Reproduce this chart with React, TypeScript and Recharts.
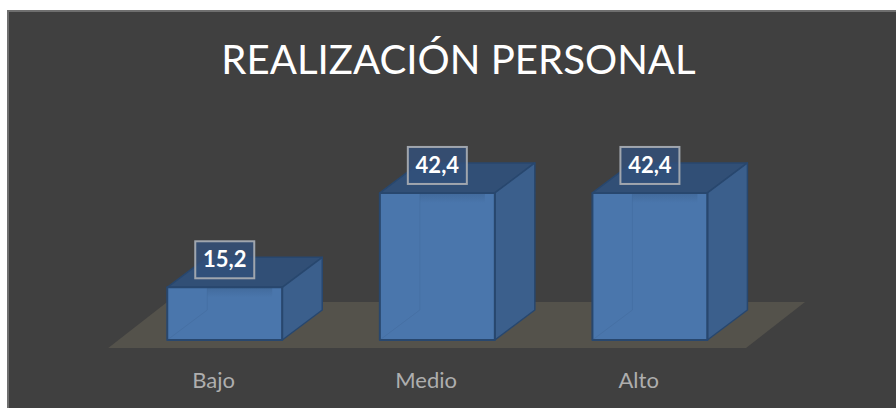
import { BarChart, Bar, XAxis, YAxis, LabelList, ReferenceArea } from 'recharts';

const categories = ['Bajo', 'Medio', 'Alto'];
const values = [15.2, 42.4, 42.4];
const yDomain = [0, 50];

const chartData = categories.map((name, i) => ({ name, value: values[i] }));

const DEPTH_X = 40;
const DEPTH_Y = 30;

const Floor = (props: any) => {
  const { x, y, width, height } = props;
  const bottom = y + height;
  const pts = [
    [x - 10, bottom + 8],
    [x + width - 10, bottom + 8],
    [x + width + 49, bottom - 38],
    [x + 49, bottom - 38],
  ];
  return <polygon points={pts.map((p) => p.join(',')).join(' ')} fill="#54524b" />;
};

const Box3D = (props: any) => {
  const { x, y, width, height } = props;
  const r = x + width;
  const b = y + height;
  const dx = DEPTH_X;
  const dy = DEPTH_Y;
  const edge = '#28476e';
  return (
    <g strokeLinejoin="round">
      <rect x={x} y={y} width={width} height={height} fill="#4a76ac" />
      {/* back edges seen through the front */}
      <line x1={x} y1={b} x2={x + dx} y2={b - dy} stroke="#4670a4" strokeWidth={1} />
      <line x1={x + dx} y1={y} x2={x + dx} y2={b - dy} stroke="#4670a4" strokeWidth={1} />
      <polygon
        points={`${x},${y} ${r},${y} ${r + dx},${y - dy} ${x + dx},${y - dy}`}
        fill="#314f76"
        stroke={edge}
        strokeWidth={1.5}
      />
      <polygon
        points={`${r},${y} ${r + dx},${y - dy} ${r + dx},${b - dy} ${r},${b}`}
        fill="#3b5f8c"
        stroke={edge}
        strokeWidth={1.5}
      />
      <rect x={x + 40} y={y} width={width - 50} height={10} fill="url(#topGlow)" />
      <rect x={x} y={y} width={width} height={height} fill="none" stroke={edge} strokeWidth={2} />
    </g>
  );
};

const ValueBadge = (props: any) => {
  const { x, y, width, value } = props;
  const cx = x + width / 2;
  const cy = y - 27.5;
  return (
    <g>
      <rect
        x={cx - 29.5}
        y={cy - 18.5}
        width={59}
        height={37}
        fill="#32507c"
        fillOpacity={0.8}
        stroke="#a0a6ae"
        strokeWidth={2}
      />
      <text
        x={cx}
        y={cy + 7.5}
        textAnchor="middle"
        fill="#ffffff"
        fontFamily="Lato, sans-serif"
        fontWeight={700}
        fontSize={22}
      >
        {String(value).replace('.', ',')}
      </text>
    </g>
  );
};

const App = () => {
  return (
    <div style={{ position: 'absolute', left: 0, top: 0, width: 896, height: 408, background: '#ffffff', overflow: 'hidden' }}>
      <div
        style={{
          position: 'absolute',
          left: 7,
          top: 10,
          width: 889,
          height: 398,
          boxSizing: 'border-box',
          background: '#404040',
          borderLeft: '2px solid #6f6f6f',
          borderTop: '2px solid #6f6f6f',
        }}
      />
      <div
        style={{
          position: 'absolute',
          left: 7,
          top: 34,
          width: 903,
          textAlign: 'center',
          color: '#ffffff',
          fontFamily: 'Lato, sans-serif',
          fontSize: 40.2,
          lineHeight: '50px',
        }}
      >
        REALIZACIÓN PERSONAL
      </div>
      <div style={{ position: 'absolute', left: 7, top: 10 }}>
        <BarChart
          width={889}
          height={398}
          data={chartData}
          margin={{ top: 156.6, right: 140, bottom: 28, left: 111.25 }}
          barSize={115}
        >
          <defs>
            <linearGradient id="topGlow" x1="0" y1="0" x2="0" y2="1">
              <stop offset="0%" stopColor="#2f4f76" stopOpacity={0.3} />
              <stop offset="100%" stopColor="#2f4f76" stopOpacity={0} />
            </linearGradient>
          </defs>
          <XAxis
            dataKey="name"
            axisLine={false}
            tickLine={false}
            height={40}
            dx={-11}
            tickMargin={26}
            tick={{ fill: '#aeaeae', fontSize: 22, fontFamily: 'Lato, sans-serif' }}
          />
          <YAxis hide domain={yDomain} />
          <ReferenceArea y1={0} y2={50} shape={Floor} ifOverflow="visible" />
          <Bar dataKey="value" shape={Box3D} isAnimationActive={false}>
            <LabelList dataKey="value" content={ValueBadge} />
          </Bar>
        </BarChart>
      </div>
    </div>
  );
};

export default App;
